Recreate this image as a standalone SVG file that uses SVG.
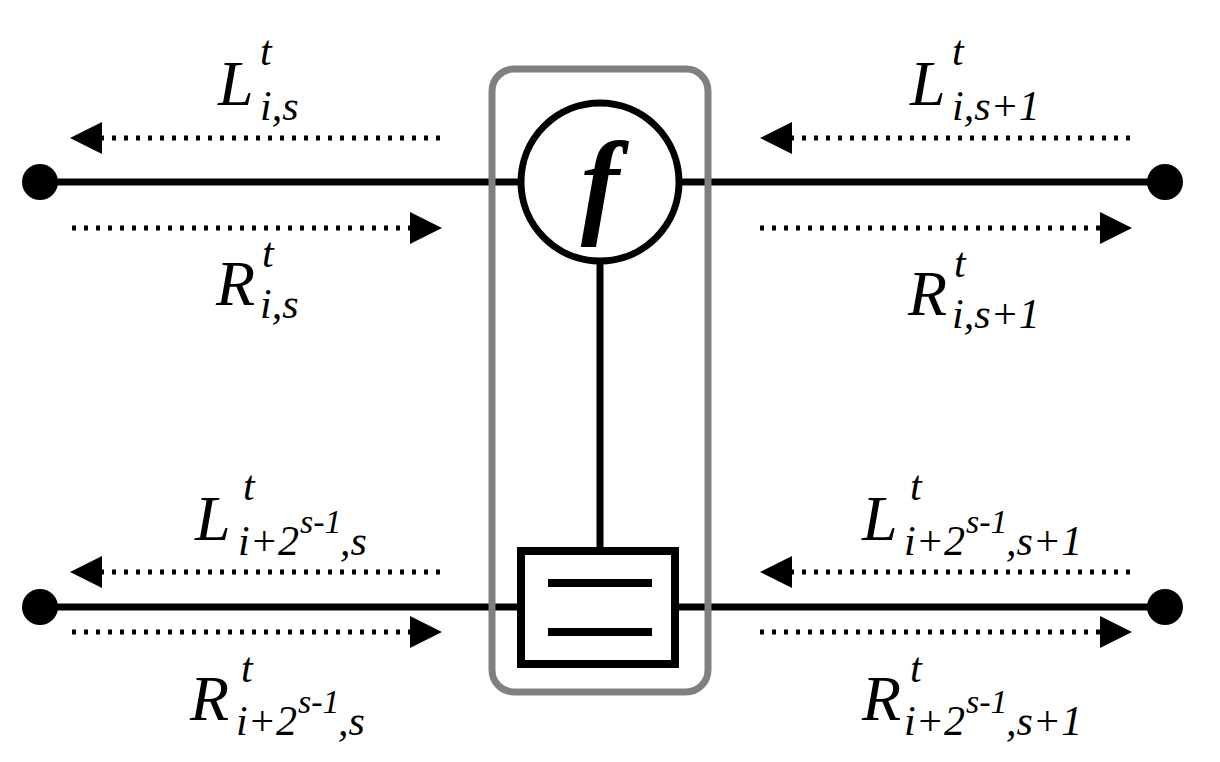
<svg xmlns="http://www.w3.org/2000/svg" width="1220" height="762" viewBox="0 0 1220 762">
<style>
.w{stroke:#000;stroke-width:7;fill:none}
.d{stroke:#000;stroke-width:5;stroke-dasharray:4 8;fill:none}
.t{font-family:'Liberation Serif','Times New Roman','DejaVu Serif',serif;font-style:italic}
.m{font-size:64px}.s{font-size:42px}.x{font-size:34px}
</style>
<defs>
<marker id="h" viewBox="0 0 32 32" refX="0" refY="16" markerWidth="32" markerHeight="32" markerUnits="userSpaceOnUse" orient="auto"><path d="M0 0L32 16L0 32Z"/></marker>
</defs>
<g id="connectors">
<line class="w" x1="40" y1="182" x2="520" y2="182"/>
<line class="w" x1="680" y1="182" x2="1165" y2="182"/>
<line class="w" x1="40" y1="607" x2="517" y2="607"/>
<line class="w" x1="678" y1="607" x2="1165" y2="607"/>
<line class="w" x1="600" y1="262" x2="600" y2="548"/>
<line class="d" x1="440" y1="138" x2="102" y2="138" marker-end="url(#h)"/>
<line class="d" x1="72" y1="228" x2="410" y2="228" marker-end="url(#h)"/>
<line class="d" x1="1130" y1="138" x2="792" y2="138" marker-end="url(#h)"/>
<line class="d" x1="760" y1="228" x2="1100" y2="228" marker-end="url(#h)"/>
<line class="d" x1="440" y1="572" x2="102" y2="572" marker-end="url(#h)"/>
<line class="d" x1="72" y1="632" x2="410" y2="632" marker-end="url(#h)"/>
<line class="d" x1="1130" y1="572" x2="792" y2="572" marker-end="url(#h)"/>
<line class="d" x1="760" y1="632" x2="1100" y2="632" marker-end="url(#h)"/>
</g>
<g id="container"><rect x="492" y="69" width="216" height="623" rx="22" fill="none" stroke="#808080" stroke-width="7"/></g>
<g id="nodeL1"><circle cx="40" cy="182" r="18"/></g>
<g id="nodeR1"><circle cx="1165" cy="182" r="18"/></g>
<g id="nodeL2"><circle cx="40" cy="607" r="18"/></g>
<g id="nodeR2"><circle cx="1165" cy="607" r="18"/></g>
<g id="f"><circle cx="600" cy="182" r="79" fill="#fff" stroke="#000" stroke-width="7"/>
<text class="t" x="600" y="222" text-anchor="middle" font-size="116" font-weight="bold">f</text></g>
<g id="eq"><rect x="521" y="551" width="154" height="113" fill="#fff" stroke="#000" stroke-width="8"/>
<line x1="548" y1="583" x2="652" y2="583" stroke="#000" stroke-width="8"/>
<line x1="548" y1="632" x2="652" y2="632" stroke="#000" stroke-width="8"/></g>
<g id="labels" class="t">
<text class="m" x="218" y="105">L</text><text class="s" x="260" y="65">t</text><text class="s" x="260" y="120">i,s</text>
<text class="m" x="216" y="305">R</text><text class="s" x="262" y="267">t</text><text class="s" x="260" y="318">i,s</text>
<text class="m" x="910" y="105">L</text><text class="s" x="952" y="65">t</text><text class="s" x="952" y="120">i,s+1</text>
<text class="m" x="908" y="315">R</text><text class="s" x="954" y="277">t</text><text class="s" x="952" y="328">i,s+1</text>
<text class="m" x="195" y="540">L</text><text class="s" x="243" y="500">t</text><text class="s" x="238" y="555">i+2</text><text class="x" x="300" y="533">s-1</text><text class="s" x="340" y="555">,s</text>
<text class="m" x="190" y="720">R</text><text class="s" x="241" y="682">t</text><text class="s" x="236" y="735">i+2</text><text class="x" x="298" y="713">s-1</text><text class="s" x="338" y="735">,s</text>
<text class="m" x="862" y="540">L</text><text class="s" x="910" y="500">t</text><text class="s" x="904" y="555">i+2</text><text class="x" x="966" y="533">s-1</text><text class="s" x="1006" y="555">,s+1</text>
<text class="m" x="862" y="720">R</text><text class="s" x="910" y="682">t</text><text class="s" x="904" y="735">i+2</text><text class="x" x="966" y="713">s-1</text><text class="s" x="1006" y="735">,s+1</text>
</g>
</svg>
